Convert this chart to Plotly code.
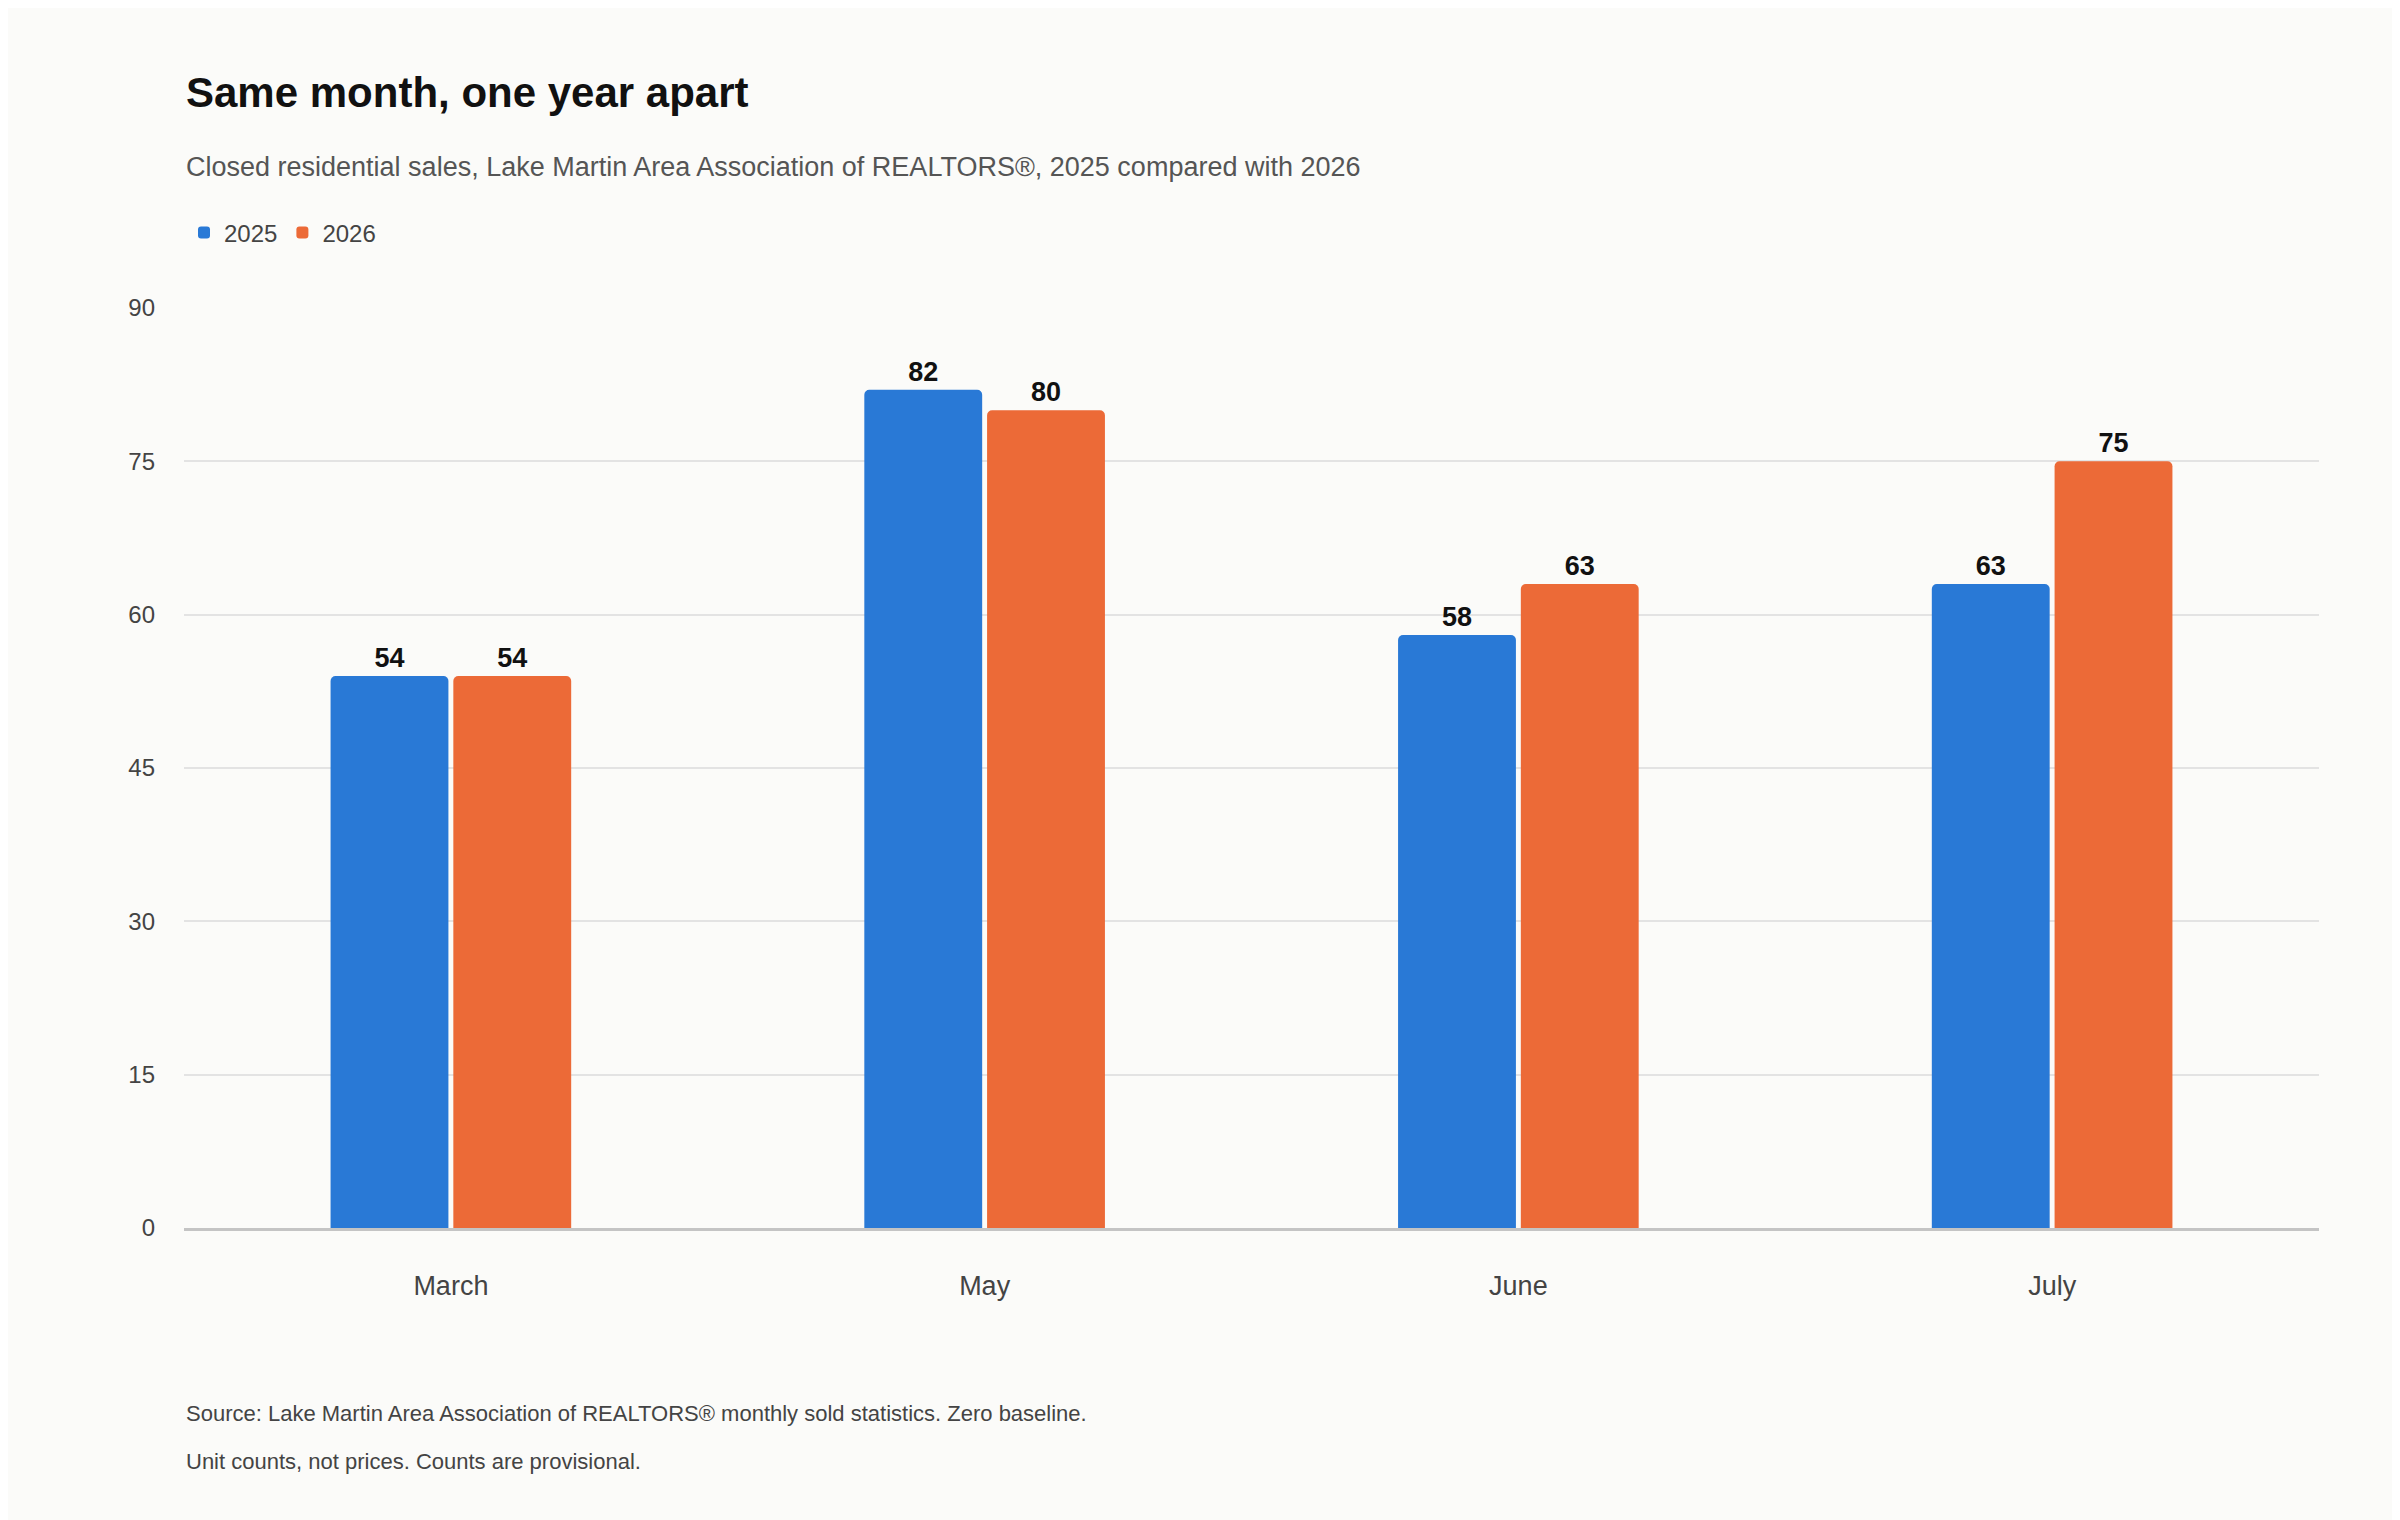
import plotly.graph_objects as go

months = ["March", "May", "June", "July"]
sales_2025 = [54, 82, 58, 63]
sales_2026 = [54, 80, 63, 75]
y_ticks = [0, 15, 30, 45, 60, 75, 90]

FONT = "Liberation Sans, Arial, sans-serif"
fig = go.Figure()
for name, vals, col in [("2025", sales_2025, "#2979d6"), ("2026", sales_2026, "#ec6a37")]:
    fig.add_bar(x=months, y=vals, name=name, marker=dict(color=col, line=dict(width=0)),
                text=vals, textposition="outside", cliponaxis=False,
                textfont=dict(family=FONT, size=27, color="#111111", weight="bold"))

H = 920
def py(px):
    return (1220 - px) / H

fig.update_layout(
    width=2400, height=1520, paper_bgcolor="#fbfbf9", plot_bgcolor="#fbfbf9",
    margin=dict(l=176, r=89, t=300, b=300),
    barmode="group", bargap=0.54, bargroupgap=0.04, barcornerradius=5,
    font=dict(family=FONT, color="#444444"),
    showlegend=True,
    legend=dict(orientation="h", x=0, xanchor="left", y=py(225), yanchor="middle",
                font=dict(size=24, color="#444444"), itemwidth=30, traceorder="normal",
                bgcolor="rgba(0,0,0,0)"),
    xaxis=dict(showgrid=False, showline=True, linecolor="#c4c4c4", linewidth=3,
               tickfont=dict(size=27, color="#444444"), ticks="", ticklabelstandoff=32),
    yaxis=dict(range=[0, 90], tickvals=y_ticks, showgrid=True, gridcolor="#e3e3e3",
               gridwidth=1.5, zeroline=False, tickfont=dict(size=24, color="#444444"),
               ticks="", ticklabelstandoff=28),
    annotations=[
        dict(text="<b>Same month, one year apart</b>", xref="paper", yref="paper", x=0, y=py(84),
             xanchor="left", yanchor="middle", showarrow=False, font=dict(size=42, color="#111111")),
        dict(text="Closed residential sales, Lake Martin Area Association of REALTORS®, 2025 compared with 2026",
             xref="paper", yref="paper", x=0, y=py(159), xanchor="left", yanchor="middle",
             showarrow=False, font=dict(size=27, color="#555555")),
        dict(text="Source: Lake Martin Area Association of REALTORS® monthly sold statistics. Zero baseline.",
             xref="paper", yref="paper", x=0, y=py(1405), xanchor="left", yanchor="middle",
             showarrow=False, font=dict(size=22, color="#444444")),
        dict(text="Unit counts, not prices. Counts are provisional.",
             xref="paper", yref="paper", x=0, y=py(1453), xanchor="left", yanchor="middle",
             showarrow=False, font=dict(size=22, color="#444444")),
    ],
)
fig.write_html("out.html")
